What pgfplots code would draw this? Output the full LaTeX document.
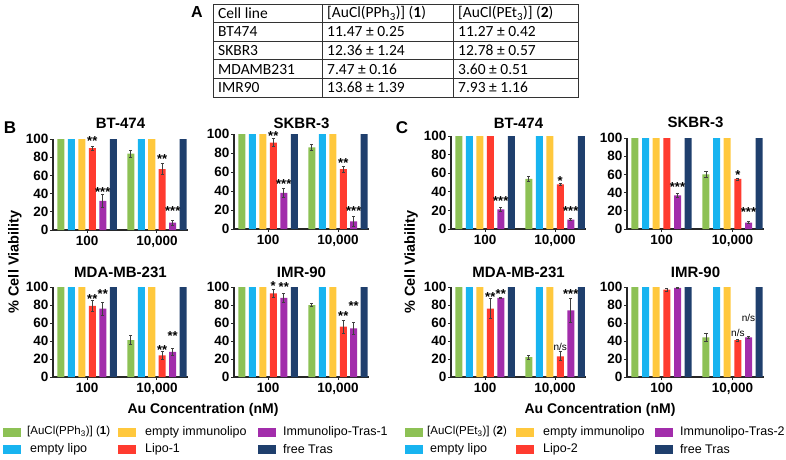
\documentclass[border=0pt]{standalone}
\usepackage{pgfplots}
\pgfplotsset{compat=1.18}
\usepackage{fontspec}
\setmainfont{Liberation Sans}
\newfontfamily\calfont{Carlito}
\definecolor{cgreen}{HTML}{8DC155}
\definecolor{ccyan}{HTML}{18B4F0}
\definecolor{cyellow}{HTML}{FFC83D}
\definecolor{cred}{HTML}{FF3B2F}
\definecolor{cpurple}{HTML}{A22DAB}
\definecolor{cnavy}{HTML}{1F3F6D}
\definecolor{axcol}{HTML}{262626}
\pgfplotsset{
  cellax/.style={
    scale only axis, width=135pt,
    ymin=0, ymax=100, ytick={0,20,40,60,80,100},
    xmin=0.514, xmax=2.443, xtick={1,2}, xticklabels={100,{10,000}},
    axis x line*=bottom, axis y line*=left,
    axis line style={line width=1.1pt, axcol, -},
    every tick/.style={line width=1pt, axcol},
    major tick length=3pt, tick align=outside,
    /pgf/number format/assume math mode=true,
    ticklabel style={font=\bfseries\fontsize{13.5}{14}\selectfont},
    yticklabel style={inner sep=1.5pt},
    title style={font=\bfseries\fontsize{15}{16}\selectfont, at={(0.5,1)}, anchor=base},
    clip=false, anchor=south west,
  },
  bw/.style={ybar, bar width=7pt, draw=none},
  sg/.style={bw, bar shift=-0.375, fill=cgreen},
  sc/.style={bw, bar shift=-0.225, fill=ccyan},
  sy/.style={bw, bar shift=-0.075, fill=cyellow},
  sr/.style={bw, bar shift=0.075, fill=cred},
  sp/.style={bw, bar shift=0.225, fill=cpurple},
  sn/.style={bw, bar shift=0.375, fill=cnavy},
  err/.style={forget plot, draw=none, mark=none,
    error bars/y dir=both, error bars/y explicit,
    error bars/error bar style={draw=black!75, line width=0.7pt},
    error bars/error mark options={draw=black!75, rotate=90, mark size=1.6pt, line width=0.7pt}},
}
\tikzset{
  star/.style={font=\bfseries\fontsize{13}{13}\selectfont, anchor=base, yshift=-7.4pt, inner sep=0pt},
  ns/.style={font=\fontsize{10}{10}\selectfont, anchor=center, inner sep=0pt},
}
\newcommand{\st}[3]{\node[star] at (axis cs:#1,#2) {#3};}
\newcommand{\nsl}[2]{\node[ns] at (axis cs:#1,#2) {n/s};}
\begin{document}
\begin{tikzpicture}[x=1pt,y=1pt]
\useasboundingbox (0,0) rectangle (786,-459);

% ---------- Table A ----------
\node[font=\bfseries\fontsize{16}{16}\selectfont] at (197,-12) {A};
\draw[line width=0.8pt, black!80] (213,-4) rectangle (578,-97);
\foreach \yy in {-22.6,-41.2,-59.8,-78.4} \draw[line width=0.8pt, black!80] (213,\yy) -- (578,\yy);
\draw[line width=0.8pt, black!80] (322,-4) -- (322,-97);
\draw[line width=0.8pt, black!80] (453,-4) -- (453,-97);
\begin{scope}[every node/.style={anchor=west, inner sep=0pt, font=\calfont\fontsize{15.5}{16}\selectfont}]
\node at (218,-13.3) {Cell line};
\node at (327,-13.3) {[AuCl(PPh\textsubscript{3})] (\textbf{1})};
\node at (458,-13.3) {[AuCl(PEt\textsubscript{3})] (\textbf{2})};
\node at (218,-31.9) {BT474};
\node at (327,-31.9) {11.47 ± 0.25};
\node at (458,-31.9) {11.27 ± 0.42};
\node at (218,-50.5) {SKBR3};
\node at (327,-50.5) {12.36 ± 1.24};
\node at (458,-50.5) {12.78 ± 0.57};
\node at (218,-69.1) {MDAMB231};
\node at (327,-69.1) {7.47 ± 0.16};
\node at (458,-69.1) {3.60 ± 0.51};
\node at (218,-87.7) {IMR90};
\node at (327,-87.7) {13.68 ± 1.39};
\node at (458,-87.7) {7.93 ± 1.16};
\end{scope}

% ---------- Panel labels ----------
\node[font=\bfseries\fontsize{17}{17}\selectfont] at (10,-128) {B};
\node[font=\bfseries\fontsize{17}{17}\selectfont] at (402,-128) {C};
\node[rotate=90, font=\bfseries\fontsize{14.5}{15}\selectfont] at (15,-262) {\% Cell Viability};
\node[rotate=90, font=\bfseries\fontsize{14.5}{15}\selectfont] at (411,-262) {\% Cell Viability};
\node[font=\bfseries\fontsize{14}{15}\selectfont] at (203,-410) {Au Concentration (nM)};
\node[font=\bfseries\fontsize{14}{15}\selectfont] at (600,-410) {Au Concentration (nM)};

% ================= B: BT-474 =================
\begin{axis}[cellax, at={(53pt,-230pt)}, height=91pt, title={BT-474}, title style={yshift=5pt}]
\addplot[sg] coordinates {(1,100) (2,84)};
\addplot[sc] coordinates {(1,100) (2,100)};
\addplot[sy] coordinates {(1,100) (2,100)};
\addplot[sr] coordinates {(1,90) (2,67)};
\addplot[sp] coordinates {(1,32) (2,8)};
\addplot[sn] coordinates {(1,100) (2,100)};
\addplot[err] coordinates {(1.625,84) +- (0,4)};
\addplot[err] coordinates {(1.075,90) +- (0,2) (2.075,67) +- (0,6)};
\addplot[err] coordinates {(1.225,32) +- (0,7) (2.225,8) +- (0,3)};
\st{1.075}{101}{**}\st{1.225}{45}{***}\st{2.075}{81}{**}\st{2.225}{24}{***}
\end{axis}

% ================= B: SKBR-3 =================
\begin{axis}[cellax, at={(234pt,-229pt)}, height=95pt, title={SKBR-3}, title style={yshift=0pt}]
\addplot[sg] coordinates {(1,100) (2,86)};
\addplot[sc] coordinates {(1,100) (2,100)};
\addplot[sy] coordinates {(1,100) (2,100)};
\addplot[sr] coordinates {(1,91) (2,63)};
\addplot[sp] coordinates {(1,38) (2,8)};
\addplot[sn] coordinates {(1,100) (2,100)};
\addplot[err] coordinates {(1.625,86) +- (0,3)};
\addplot[err] coordinates {(1.075,91) +- (0,4) (2.075,63) +- (0,3)};
\addplot[err] coordinates {(1.225,38) +- (0,5) (2.225,8) +- (0,5)};
\st{1.075}{101}{**}\st{1.225}{50}{***}\st{2.075}{73}{**}\st{2.225}{22}{***}
\end{axis}

% ================= B: MDA-MB-231 =================
\begin{axis}[cellax, at={(53pt,-377pt)}, height=90pt, title={MDA-MB-231}, title style={yshift=3.5pt}]
\addplot[sg] coordinates {(1,100) (2,41)};
\addplot[sc] coordinates {(1,100) (2,100)};
\addplot[sy] coordinates {(1,100) (2,100)};
\addplot[sr] coordinates {(1,79) (2,24)};
\addplot[sp] coordinates {(1,76) (2,28)};
\addplot[sn] coordinates {(1,100) (2,100)};
\addplot[err] coordinates {(1.625,41) +- (0,5)};
\addplot[err] coordinates {(1.075,79) +- (0,6) (2.075,24) +- (0,4)};
\addplot[err] coordinates {(1.225,76) +- (0,7) (2.225,28) +- (0,4)};
\st{1.075}{90}{**}\st{1.225}{96}{**}\st{2.075}{33}{**}\st{2.225}{49}{**}
\end{axis}

% ================= B: IMR-90 =================
\begin{axis}[cellax, at={(234pt,-377pt)}, height=90pt, title={IMR-90}, title style={yshift=3.5pt}]
\addplot[sg] coordinates {(1,100) (2,80)};
\addplot[sc] coordinates {(1,100) (2,100)};
\addplot[sy] coordinates {(1,100) (2,100)};
\addplot[sr] coordinates {(1,93) (2,56)};
\addplot[sp] coordinates {(1,88) (2,54)};
\addplot[sn] coordinates {(1,100) (2,100)};
\addplot[err] coordinates {(1.625,80) +- (0,2)};
\addplot[err] coordinates {(1.075,93) +- (0,4) (2.075,56) +- (0,7)};
\addplot[err] coordinates {(1.225,88) +- (0,5) (2.225,54) +- (0,7)};
\st{1.075}{104}{*}\st{1.225}{103}{**}\st{2.075}{71}{**}\st{2.225}{82}{**}
\end{axis}

% ================= C: BT-474 =================
\begin{axis}[cellax, at={(451pt,-229pt)}, height=93pt, title={BT-474}, title style={yshift=1.5pt}]
\addplot[sg] coordinates {(1,100) (2,54)};
\addplot[sc] coordinates {(1,100) (2,100)};
\addplot[sy] coordinates {(1,100) (2,100)};
\addplot[sr] coordinates {(1,100) (2,48)};
\addplot[sp] coordinates {(1,21) (2,10)};
\addplot[sn] coordinates {(1,100) (2,100)};
\addplot[err] coordinates {(1.625,54) +- (0,3)};
\addplot[err] coordinates {(2.075,48) +- (0,1)};
\addplot[err] coordinates {(1.225,21) +- (0,2) (2.225,10) +- (0,1)};
\st{1.225}{33}{***}\st{2.075}{55}{*}\st{2.225}{22}{***}
\end{axis}

% ================= C: SKBR-3 =================
\begin{axis}[cellax, at={(627pt,-229pt)}, width=137pt, height=91pt, title={SKBR-3}, title style={yshift=4.5pt}]
\addplot[sg] coordinates {(1,100) (2,60)};
\addplot[sc] coordinates {(1,100) (2,100)};
\addplot[sy] coordinates {(1,100) (2,100)};
\addplot[sr] coordinates {(1,100) (2,55)};
\addplot[sp] coordinates {(1,37) (2,7)};
\addplot[sn] coordinates {(1,100) (2,100)};
\addplot[err] coordinates {(1.625,60) +- (0,3)};
\addplot[err] coordinates {(2.075,55) +- (0,1)};
\addplot[err] coordinates {(1.225,37) +- (0,2) (2.225,7) +- (0,1)};
\st{1.225}{49}{***}\st{2.075}{62}{*}\st{2.225}{22}{***}
\end{axis}

% ================= C: MDA-MB-231 =================
\begin{axis}[cellax, at={(451pt,-377pt)}, height=90pt, title={MDA-MB-231}, title style={yshift=3.5pt}]
\addplot[sg] coordinates {(1,100) (2,22)};
\addplot[sc] coordinates {(1,100) (2,100)};
\addplot[sy] coordinates {(1,100) (2,100)};
\addplot[sr] coordinates {(1,76) (2,23)};
\addplot[sp] coordinates {(1,88) (2,74)};
\addplot[sn] coordinates {(1,100) (2,100)};
\addplot[err] coordinates {(1.625,22) +- (0,2)};
\addplot[err] coordinates {(1.075,76) +- (0,11) (2.075,23) +- (0,5)};
\addplot[err] coordinates {(1.225,88) +- (0,1) (2.225,74) +- (0,13)};
\st{1.075}{92}{**}\st{1.225}{96}{**}\nsl{2.075}{33}\st{2.225}{95}{***}
\end{axis}

% ================= C: IMR-90 =================
\begin{axis}[cellax, at={(627pt,-377pt)}, width=137pt, height=90pt, title={IMR-90}, title style={yshift=3.5pt}]
\addplot[sg] coordinates {(1,100) (2,44)};
\addplot[sc] coordinates {(1,100) (2,100)};
\addplot[sy] coordinates {(1,100) (2,100)};
\addplot[sr] coordinates {(1,97) (2,41)};
\addplot[sp] coordinates {(1,99) (2,44)};
\addplot[sn] coordinates {(1,100) (2,100)};
\addplot[err] coordinates {(1.625,44) +- (0,4)};
\addplot[err] coordinates {(1.075,97) +- (0,2) (2.075,41) +- (0,1)};
\addplot[err] coordinates {(1.225,99) +- (0,1) (2.225,44) +- (0,1)};
\nsl{2.075}{49}\nsl{2.225}{66}
\end{axis}

% ---------- Legends ----------
\begin{scope}[every node/.style={anchor=west, inner sep=0pt, font=\fontsize{12.5}{13}\selectfont}]
% B legend
\fill[cgreen] (3,-428) rectangle (21,-436.5);
\fill[ccyan] (3,-445) rectangle (21,-453.5);
\fill[cyellow] (118,-428) rectangle (136,-436.5);
\fill[cred] (118,-445) rectangle (136,-453.5);
\fill[cpurple] (258,-428) rectangle (276,-436.5);
\fill[cnavy] (258,-445) rectangle (276,-453.5);
\node[font=\fontsize{11.5}{12}\selectfont] at (27,-432) {[AuCl(PPh\textsubscript{3})] (\textbf{1})};
\node at (30,-449) {empty lipo};
\node at (145,-432) {empty immunolipo};
\node at (145,-449) {Lipo-1};
\node at (283,-432) {Immunolipo-Tras-1};
\node at (283,-449) {free Tras};
% C legend
\fill[cgreen] (405,-428) rectangle (423,-436.5);
\fill[ccyan] (405,-445) rectangle (423,-453.5);
\fill[cyellow] (516,-428) rectangle (534,-436.5);
\fill[cred] (516,-445) rectangle (534,-453.5);
\fill[cpurple] (655,-428) rectangle (673,-436.5);
\fill[cnavy] (655,-445) rectangle (673,-453.5);
\node[font=\fontsize{11.5}{12}\selectfont] at (427,-432) {[AuCl(PEt\textsubscript{3})] (\textbf{2})};
\node at (430,-449) {empty lipo};
\node at (543,-432) {empty immunolipo};
\node at (543,-449) {Lipo-2};
\node at (680,-432) {Immunolipo-Tras-2};
\node at (680,-449) {free Tras};
\end{scope}
\end{tikzpicture}
\end{document}
